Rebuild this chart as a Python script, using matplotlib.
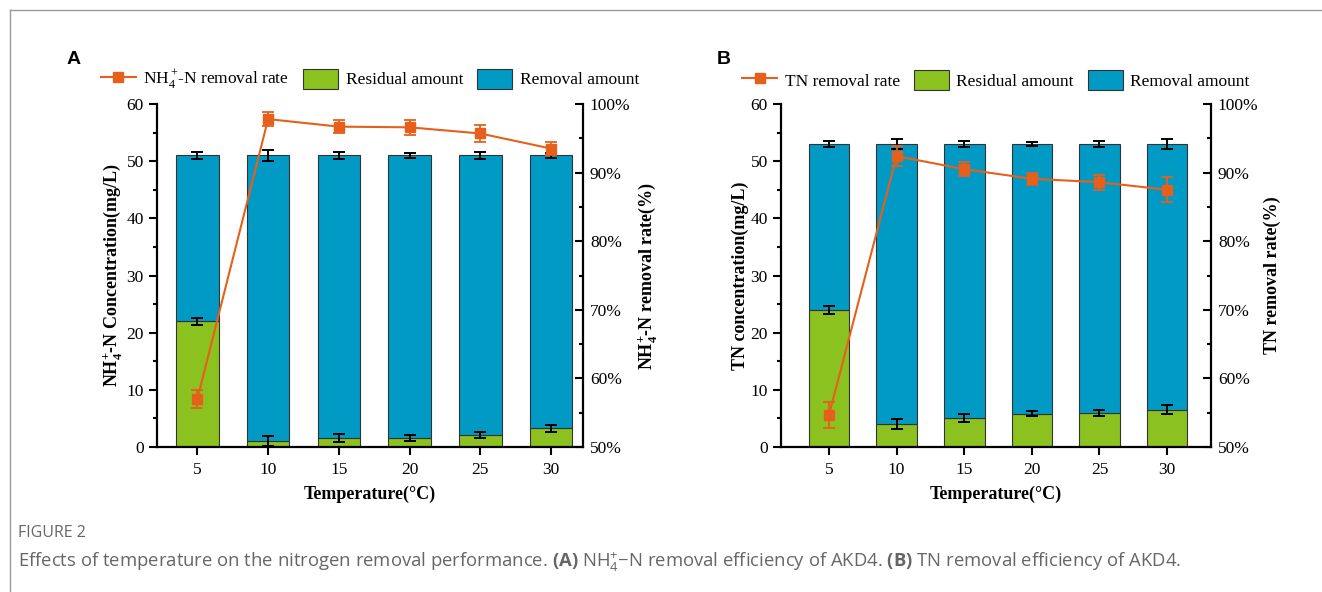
import numpy as np
import matplotlib
matplotlib.use("Agg")
import matplotlib.pyplot as plt
from matplotlib.lines import Line2D
from matplotlib.patches import Patch
from matplotlib.ticker import MultipleLocator, FuncFormatter

plt.rcParams["font.family"] = ["Liberation Serif", "DejaVu Serif"]
plt.rcParams["mathtext.fontset"] = "custom"
plt.rcParams["mathtext.rm"] = "Liberation Serif"
plt.rcParams["mathtext.bf"] = "Liberation Serif:bold"
# sans pieces for the caption line
plt.rcParams["mathtext.sf"] = "Open Sans:bold"
plt.rcParams["mathtext.tt"] = "Open Sans"

temps = ["5", "10", "15", "20", "25", "30"]

# panel A: NH4+-N
nh4_total = [51.0, 51.0, 51.0, 51.0, 51.0, 51.0]
nh4_total_err = [0.6, 0.9, 0.65, 0.45, 0.55, 0.5]
nh4_resid = [22.0, 1.1, 1.6, 1.6, 2.15, 3.3]
nh4_resid_err = [0.65, 0.9, 0.7, 0.5, 0.5, 0.6]
nh4_rate = [57.0, 97.8, 96.7, 96.6, 95.7, 93.5]
nh4_rate_err = [1.35, 1.05, 0.9, 1.1, 1.2, 0.9]

# panel B: TN
tn_total = [53.0, 53.0, 53.0, 53.0, 53.0, 53.0]
tn_total_err = [0.6, 0.9, 0.5, 0.4, 0.5, 0.8]
tn_resid = [24.0, 4.0, 5.1, 5.85, 6.0, 6.55]
tn_resid_err = [0.65, 0.9, 0.65, 0.45, 0.55, 0.85]
tn_rate = [54.7, 92.4, 90.5, 89.1, 88.6, 87.5]
tn_rate_err = [1.9, 1.45, 1.05, 0.9, 1.1, 1.8]

GREEN = "#8cc21f"
BLUE = "#009ac5"
ORANGE = "#e6601c"
FS = 12.5


def draw_panel(rect, xlim, total, total_err, resid, resid_err, rate, rate_err,
               rate_label, ylabel, y2label):
    ax = fig.add_axes(rect)
    x = np.arange(len(temps))
    total = np.array(total)
    resid = np.array(resid)
    removal = total - resid
    w = 0.6
    ax.bar(x, resid, w, color=GREEN, edgecolor="#333333", linewidth=0.8, zorder=2)
    ax.bar(x, removal, w, bottom=resid, color=BLUE, edgecolor="#333333",
           linewidth=0.8, zorder=2)
    ek = dict(fmt="none", ecolor="black", elinewidth=1.4, capsize=4, capthick=1.4, zorder=3)
    ax.errorbar(x, resid, yerr=resid_err, **ek)
    ax.errorbar(x, total, yerr=total_err, **ek)

    ax.set_xlim(*xlim)
    ax.set_ylim(0, 60)
    ax.set_xticks(x)
    ax.set_xticklabels(temps)
    ax.yaxis.set_major_locator(MultipleLocator(10))
    ax.yaxis.set_minor_locator(MultipleLocator(5))
    ax.tick_params(axis="both", which="major", direction="out", length=6, width=1.5,
                   labelsize=FS)
    ax.tick_params(axis="y", which="minor", direction="out", length=3, width=1.5)
    ax.tick_params(axis="x", which="major", pad=5)
    for s in ["top", "right"]:
        ax.spines[s].set_visible(False)
    for s in ["left", "bottom"]:
        ax.spines[s].set_linewidth(1.6)
    ax.set_xlabel("Temperature(°C)", fontsize=13, fontweight="bold", labelpad=5)
    ax.set_ylabel(ylabel, fontsize=13, fontweight="bold", labelpad=1)

    ax2 = ax.twinx()
    ax2.errorbar(x, rate, yerr=rate_err, color=ORANGE, lw=1.5, marker="s", ms=7,
                 elinewidth=1.3, capsize=4, capthick=1.3, zorder=4)
    ax2.set_ylim(50, 100)
    ax2.yaxis.set_major_locator(MultipleLocator(10))
    ax2.yaxis.set_minor_locator(MultipleLocator(5))
    ax2.yaxis.set_major_formatter(FuncFormatter(lambda v, p: f"{v:.0f}%"))
    ax2.tick_params(axis="y", which="major", direction="in", length=6, width=1.5,
                    labelsize=FS, pad=5)
    ax2.tick_params(axis="y", which="minor", direction="in", length=3, width=1.5)
    for s in ["top", "left", "bottom"]:
        ax2.spines[s].set_visible(False)
    ax2.spines["right"].set_linewidth(1.6)
    ax2.set_ylabel(y2label, fontsize=13, fontweight="bold", labelpad=4)

    handles = [
        Line2D([], [], color=ORANGE, lw=1.5, marker="s", ms=7),
        Patch(facecolor=GREEN, edgecolor="#333333", linewidth=0.8),
        Patch(facecolor=BLUE, edgecolor="#333333", linewidth=0.8),
    ]
    ax.legend(handles, [rate_label, "Residual amount", "Removal amount"],
              loc="center", bbox_to_anchor=(0.5, 1.07), ncol=3, frameon=False,
              fontsize=FS, handlelength=2.0, handleheight=1.4, columnspacing=0.8,
              handletextpad=0.45, borderaxespad=0.0)
    return ax, ax2


fig = plt.figure(figsize=(13.22, 5.92), dpi=100)

draw_panel([157 / 1322, 1 - 447 / 592, (583 - 157) / 1322, 343 / 592], (-0.57, 5.45),
           nh4_total, nh4_total_err, nh4_resid, nh4_resid_err, nh4_rate, nh4_rate_err,
           r"NH$_4^+\!$-N removal rate",
           r"NH$_\mathbf{4}^\mathbf{+}$-N Concentration(mg/L)",
           r"NH$_\mathbf{4}^\mathbf{+}$-N removal rate(%)")

draw_panel([781 / 1322, 1 - 447 / 592, (1211 - 781) / 1322, 343 / 592], (-0.71, 5.65),
           tn_total, tn_total_err, tn_resid, tn_resid_err, tn_rate, tn_rate_err,
           "TN removal rate", "TN concentration(mg/L)", "TN removal rate(%)")

fig.text(67 / 1322, 1 - 60 / 592, "A", family="Liberation Sans", fontweight="bold",
         fontsize=14, va="center")
fig.text(717 / 1322, 1 - 60 / 592, "B", family="Liberation Sans", fontweight="bold",
         fontsize=14, va="center")

# frame of the figure box
fig.add_artist(Line2D([10 / 1322, 1], [1 - 10 / 592, 1 - 10 / 592], color="#9a9a9a", lw=1))
fig.add_artist(Line2D([10 / 1322, 10 / 1322], [0, 1 - 10 / 592], color="#9a9a9a", lw=1))

fig.text(18 / 1322, 1 - 533 / 592, "FIGURE 2", family="Open Sans", fontsize=11.5,
         color="#666666", va="center")
fig.text(18 / 1322, 1 - 562 / 592,
         r"Effects of temperature on the nitrogen removal performance. $\mathsf{(A)}$ "
         r"NH$_\mathtt{4}^\mathtt{+}$−N removal efficiency of AKD4. $\mathsf{(B)}$ "
         r"TN removal efficiency of AKD4.",
         family="Open Sans", fontsize=13.3, color="#666666", va="center")

fig.savefig("out.png", dpi=100)
